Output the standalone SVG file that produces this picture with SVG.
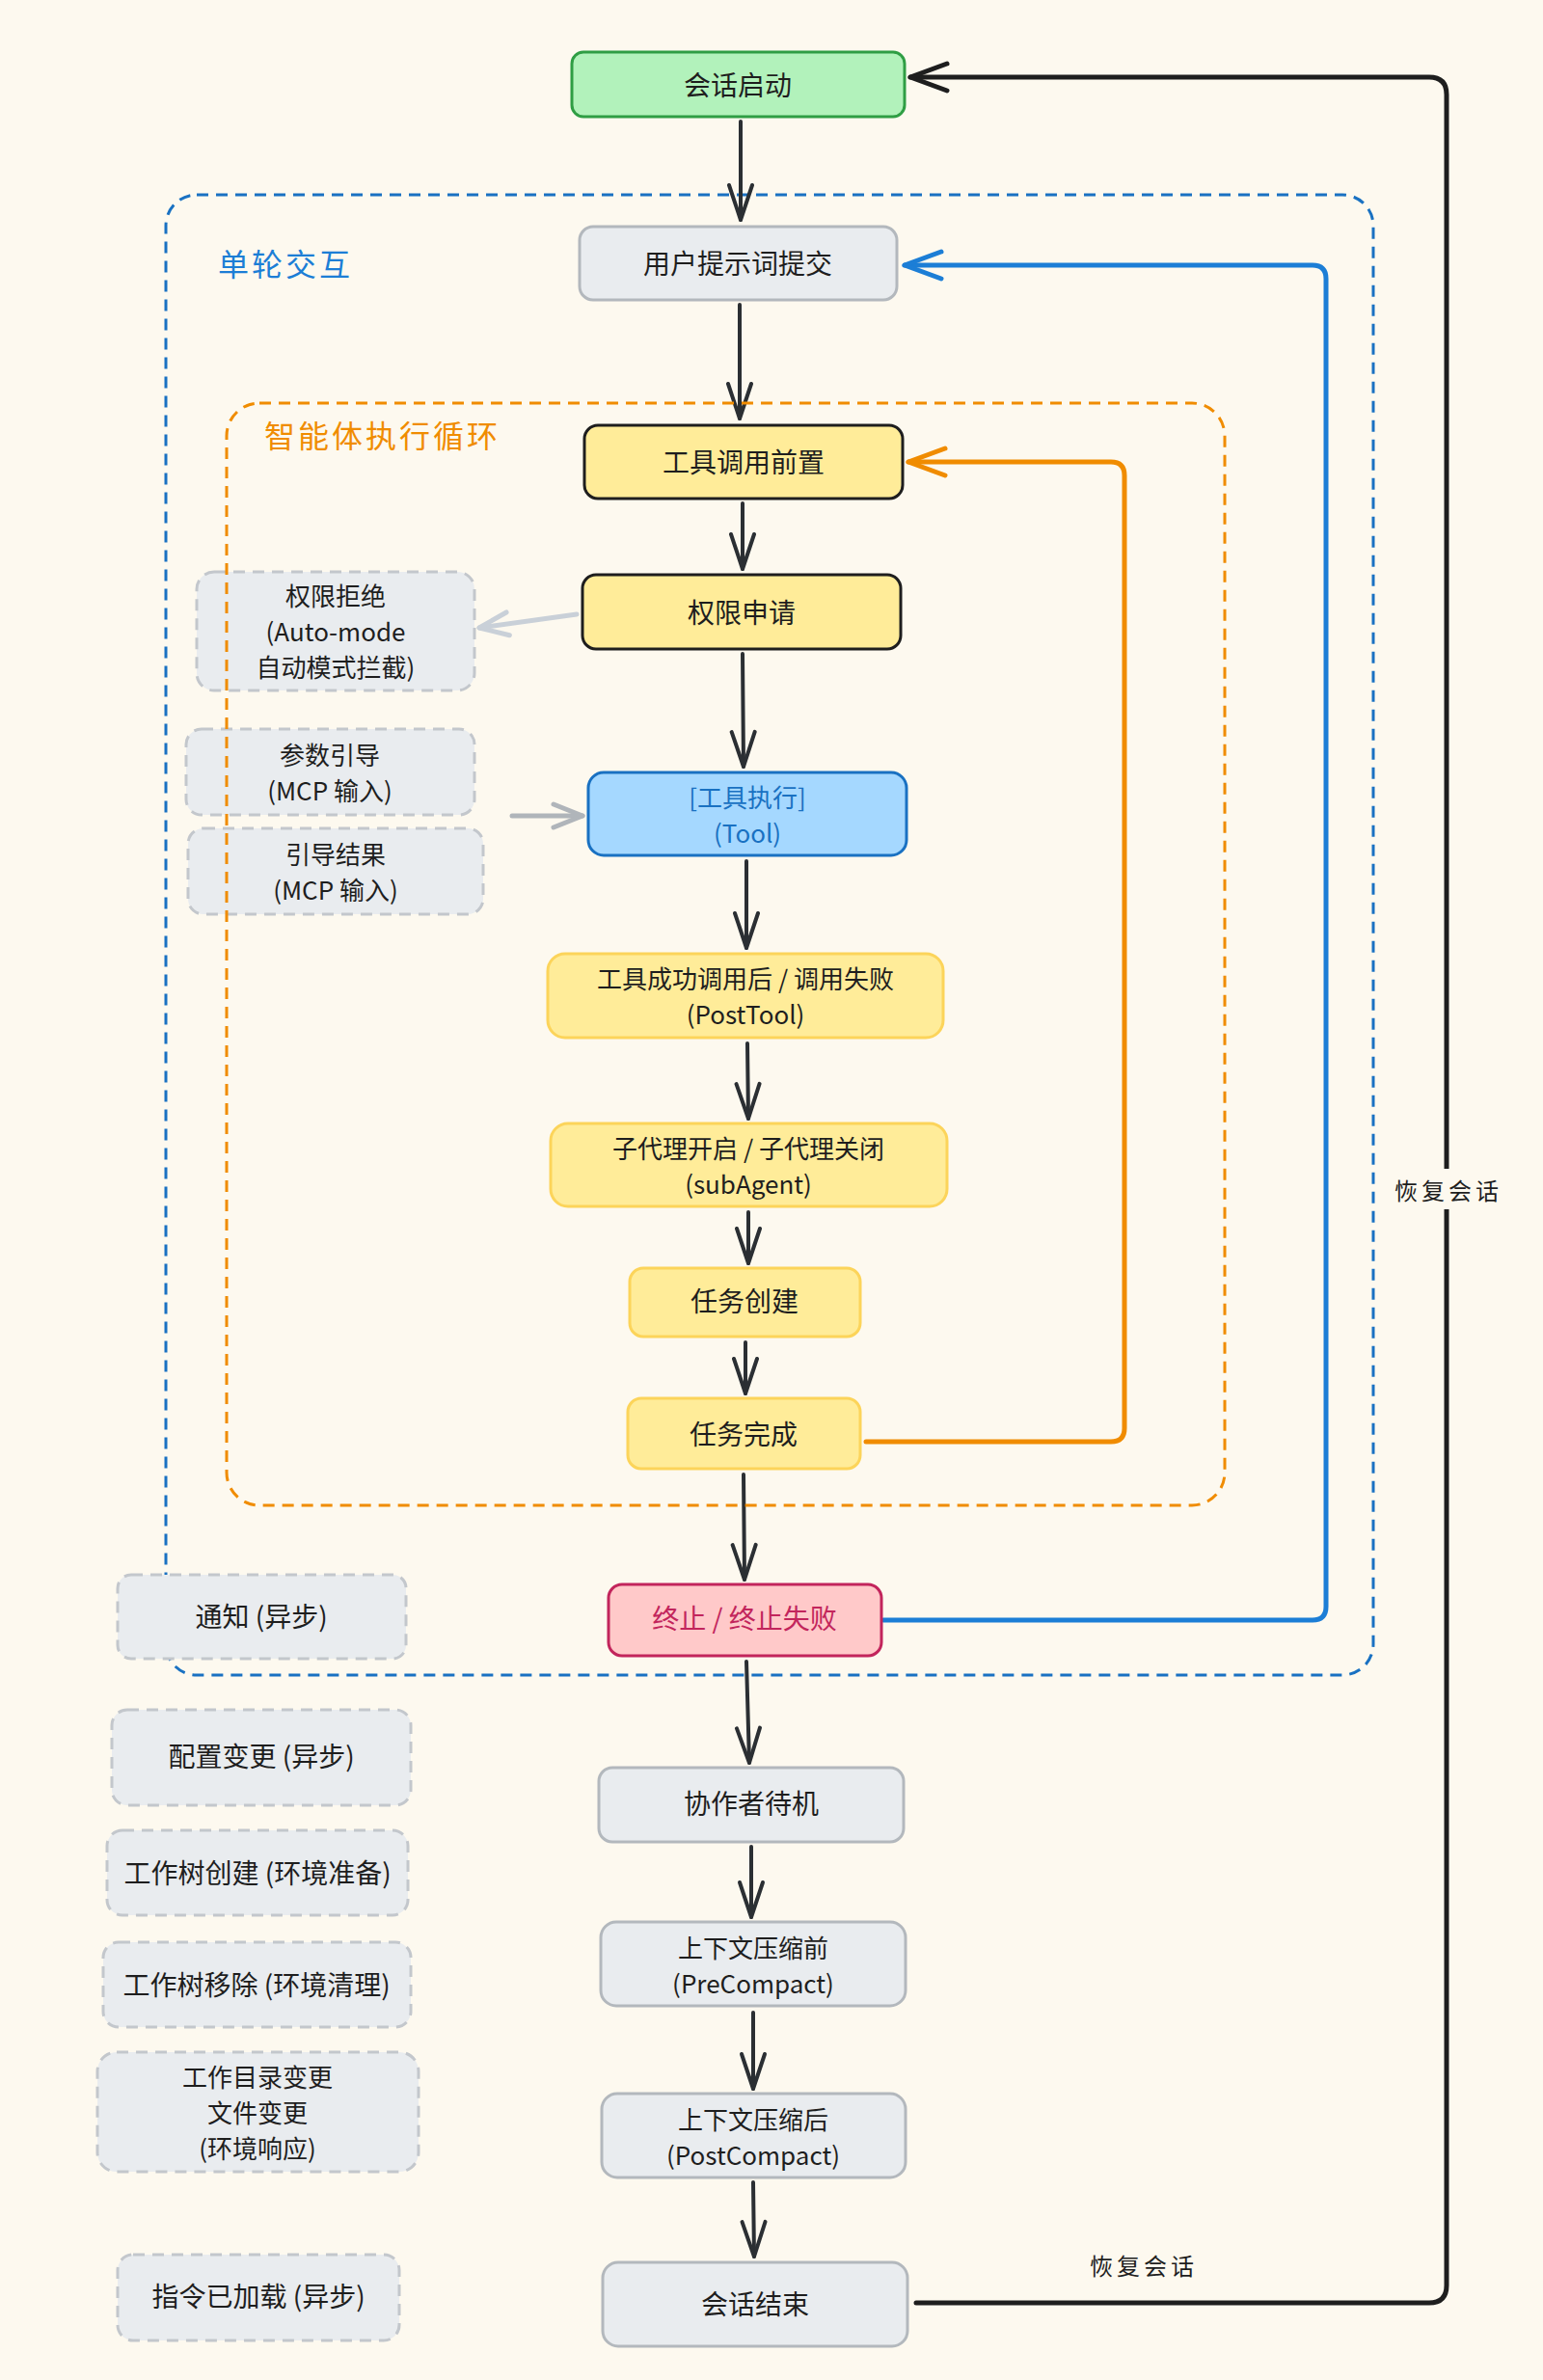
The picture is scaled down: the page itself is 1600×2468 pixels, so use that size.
<svg xmlns="http://www.w3.org/2000/svg" width="1600" height="2468" viewBox="0 0 1600 2468">
<defs>
<style>
text{font-family:"Noto Sans CJK SC","Liberation Sans",sans-serif;font-size:28px;fill:#1e1e1e;text-anchor:middle;dominant-baseline:central}
.m{font-size:26px}
.lbl{font-size:24px;letter-spacing:4px}
.grp{font-size:32px;letter-spacing:3px;text-anchor:start}
.n-green{fill:#b2f2bb;stroke:#2f9e44;stroke-width:3}
.n-gray{fill:#e9ecef;stroke:#b3b8bd;stroke-width:3}
.n-dash{fill:#e9ecef;stroke:#c3c7cc;stroke-width:3;stroke-dasharray:12 8}
.n-ydark{fill:#ffec99;stroke:#1e1e1e;stroke-width:3}
.n-y{fill:#ffec99;stroke:#fcd45a;stroke-width:3}
.n-blue{fill:#a5d8ff;stroke:#1971c2;stroke-width:3}
.n-pink{fill:#ffc9c9;stroke:#c2255c;stroke-width:3}
.c{fill:none;stroke-linecap:round;stroke-linejoin:round}
.dark{stroke:#2b2f33;stroke-width:4}
</style>
<marker id="mk-dark" markerUnits="userSpaceOnUse" markerWidth="40" markerHeight="28" refX="36" refY="12" orient="auto" overflow="visible"><path d="M0,0 L36,12 L0,24" fill="none" stroke="#2b2f33" stroke-width="4" stroke-linecap="round" stroke-linejoin="round"/></marker>
<marker id="mk-black" markerUnits="userSpaceOnUse" markerWidth="40" markerHeight="32" refX="38" refY="14" orient="auto" overflow="visible"><path d="M0,0 L38,14 L0,28" fill="none" stroke="#1e1e1e" stroke-width="5" stroke-linecap="round" stroke-linejoin="round"/></marker>
<marker id="mk-blue" markerUnits="userSpaceOnUse" markerWidth="40" markerHeight="32" refX="38" refY="14" orient="auto" overflow="visible"><path d="M0,0 L38,14 L0,28" fill="none" stroke="#1c7ed6" stroke-width="5" stroke-linecap="round" stroke-linejoin="round"/></marker>
<marker id="mk-orange" markerUnits="userSpaceOnUse" markerWidth="40" markerHeight="32" refX="38" refY="14" orient="auto" overflow="visible"><path d="M0,0 L38,14 L0,28" fill="none" stroke="#f08c00" stroke-width="5" stroke-linecap="round" stroke-linejoin="round"/></marker>
<marker id="mk-lgray" markerUnits="userSpaceOnUse" markerWidth="34" markerHeight="28" refX="30" refY="12" orient="auto" overflow="visible"><path d="M0,0 L30,12 L0,24" fill="none" stroke="#c9d0d8" stroke-width="5" stroke-linecap="round" stroke-linejoin="round"/></marker>
<marker id="mk-gray" markerUnits="userSpaceOnUse" markerWidth="34" markerHeight="28" refX="30" refY="12" orient="auto" overflow="visible"><path d="M0,0 L30,12 L0,24" fill="none" stroke="#b0b5ba" stroke-width="5" stroke-linecap="round" stroke-linejoin="round"/></marker>
</defs>
<rect x="0" y="0" width="1600" height="2468" fill="#fdf9ef"/>

<g id="group-single-turn">
<rect x="172" y="202" width="1252" height="1535" rx="32" fill="none" stroke="#1971c2" stroke-width="3" stroke-dasharray="12 8"/>
<text class="grp" x="226" y="272" style="fill:#1c7ed6">单轮交互</text>
</g>

<g id="connectors">
<path class="c" d="M950 2388 L1482 2388 Q1500 2388 1500 2370 L1500 98 Q1500 80 1482 80 L944 80" stroke="#1e1e1e" stroke-width="5" marker-end="url(#mk-black)"/>
<path class="c" d="M916 1680 L1361 1680 Q1375 1680 1375 1666 L1375 289 Q1375 275 1361 275 L938 275" stroke="#1c7ed6" stroke-width="5" marker-end="url(#mk-blue)"/>
<path class="c" d="M898 1495 L1152 1495 Q1166 1495 1166 1481 L1166 493 Q1166 479 1152 479 L942 479" stroke="#f08c00" stroke-width="5" marker-end="url(#mk-orange)"/>
<path class="c dark" d="M768 126 L768 228" marker-end="url(#mk-dark)"/>
<path class="c dark" d="M767 316 L767 434" marker-end="url(#mk-dark)"/>
<path class="c dark" d="M770 522 L770 590" marker-end="url(#mk-dark)"/>
<path class="c dark" d="M770 678 L771 795" marker-end="url(#mk-dark)"/>
<path class="c dark" d="M774 893 L774 983" marker-end="url(#mk-dark)"/>
<path class="c dark" d="M775 1082 L776 1160" marker-end="url(#mk-dark)"/>
<path class="c dark" d="M776 1257 L776 1310" marker-end="url(#mk-dark)"/>
<path class="c dark" d="M773 1392 L773 1445" marker-end="url(#mk-dark)"/>
<path class="c dark" d="M771 1529 L772 1638" marker-end="url(#mk-dark)"/>
<path class="c dark" d="M774 1723 L777 1828" marker-end="url(#mk-dark)"/>
<path class="c dark" d="M779 1915 L779 1988" marker-end="url(#mk-dark)"/>
<path class="c dark" d="M781 2087 L781 2166" marker-end="url(#mk-dark)"/>
<path class="c dark" d="M781 2263 L782 2340" marker-end="url(#mk-dark)"/>
<path class="c" d="M598 637 L497 651" stroke="#c9d0d8" stroke-width="5" marker-end="url(#mk-lgray)"/>
<path class="c" d="M531 846 L604 846" stroke="#b0b5ba" stroke-width="5" marker-end="url(#mk-gray)"/>
<rect x="1442" y="1212" width="116" height="42" fill="#fdf9ef"/>
<text class="lbl" x="1502" y="1233">恢复会话</text>
<text class="lbl" x="1186" y="2348">恢复会话</text>
</g>

<g id="node-session-start"><rect class="n-green" x="593" y="54" width="345" height="67" rx="12"/><text x="765" y="87">会话启动</text></g>
<g id="node-user-prompt"><rect class="n-gray" x="601" y="235" width="329" height="76" rx="14"/><text x="765" y="272">用户提示词提交</text></g>

<g id="node-notify"><rect class="n-dash" x="122" y="1633" width="299" height="87" rx="14"/><text x="271" y="1675">通知 (异步)</text></g>

<g id="node-perm-deny"><rect class="n-dash" x="204" y="593" width="288" height="123" rx="18"/><text class="m" x="348" y="616">权限拒绝</text><text class="m" x="348" y="653">(Auto-mode</text><text class="m" x="348" y="690">自动模式拦截)</text></g>
<g id="node-param-guide"><rect class="n-dash" x="193" y="756" width="299" height="89" rx="16"/><text class="m" x="342" y="781">参数引导</text><text class="m" x="342" y="818">(MCP 输入)</text></g>
<g id="node-guide-result"><rect class="n-dash" x="195" y="859" width="306" height="89" rx="16"/><text class="m" x="348" y="884">引导结果</text><text class="m" x="348" y="921">(MCP 输入)</text></g>

<g id="group-agent-loop">
<rect x="235" y="418" width="1035" height="1143" rx="34" fill="none" stroke="#f08c00" stroke-width="3" stroke-dasharray="12 8"/>
<text class="grp" x="274" y="450" style="fill:#f08c00">智能体执行循环</text>
</g>

<g id="node-pre-tool"><rect class="n-ydark" x="606" y="441" width="330" height="76" rx="14"/><text x="771" y="478">工具调用前置</text></g>
<g id="node-perm-request"><rect class="n-ydark" x="604" y="596" width="330" height="77" rx="14"/><text x="769" y="634">权限申请</text></g>
<g id="node-tool"><rect class="n-blue" x="610" y="801" width="330" height="86" rx="16"/><text class="m" x="775" y="825" style="fill:#1971c2">[工具执行]</text><text class="m" x="775" y="862" style="fill:#1971c2">(Tool)</text></g>
<g id="node-post-tool"><rect class="n-y" x="568" y="989" width="410" height="87" rx="18"/><text class="m" x="773" y="1013">工具成功调用后 / 调用失败</text><text class="m" x="773" y="1050">(PostTool)</text></g>
<g id="node-subagent"><rect class="n-y" x="571" y="1165" width="411" height="86" rx="18"/><text class="m" x="776" y="1189">子代理开启 / 子代理关闭</text><text class="m" x="776" y="1226">(subAgent)</text></g>
<g id="node-task-create"><rect class="n-y" x="653" y="1315" width="239" height="71" rx="14"/><text x="772" y="1348">任务创建</text></g>
<g id="node-task-done"><rect class="n-y" x="651" y="1450" width="241" height="73" rx="14"/><text x="771" y="1486">任务完成</text></g>

<g id="node-stop"><rect class="n-pink" x="631" y="1643" width="283" height="74" rx="14"/><text x="772" y="1677" style="fill:#c2255c">终止 / 终止失败</text></g>

<g id="node-config-change"><rect class="n-dash" x="116" y="1773" width="310" height="99" rx="16"/><text x="271" y="1820">配置变更 (异步)</text></g>
<g id="node-worktree-create"><rect class="n-dash" x="111" y="1898" width="312" height="88" rx="16"/><text x="267" y="1941">工作树创建 (环境准备)</text></g>
<g id="node-worktree-remove"><rect class="n-dash" x="107" y="2014" width="319" height="88" rx="16"/><text x="266" y="2057">工作树移除 (环境清理)</text></g>
<g id="node-cwd-change"><rect class="n-dash" x="101" y="2128" width="333" height="124" rx="20"/><text class="m" x="267" y="2152">工作目录变更</text><text class="m" x="267" y="2189">文件变更</text><text class="m" x="267" y="2226">(环境响应)</text></g>
<g id="node-instructions"><rect class="n-dash" x="122" y="2338" width="292" height="89" rx="16"/><text x="268" y="2380">指令已加载 (异步)</text></g>

<g id="node-teammate-idle"><rect class="n-gray" x="621" y="1833" width="316" height="77" rx="14"/><text x="779" y="1869">协作者待机</text></g>
<g id="node-precompact"><rect class="n-gray" x="623" y="1993" width="316" height="87" rx="16"/><text class="m" x="781" y="2018">上下文压缩前</text><text class="m" x="781" y="2055">(PreCompact)</text></g>
<g id="node-postcompact"><rect class="n-gray" x="624" y="2171" width="315" height="87" rx="16"/><text class="m" x="781" y="2196">上下文压缩后</text><text class="m" x="781" y="2233">(PostCompact)</text></g>
<g id="node-session-end"><rect class="n-gray" x="625" y="2346" width="316" height="87" rx="16"/><text x="783" y="2388">会话结束</text></g>
</svg>
